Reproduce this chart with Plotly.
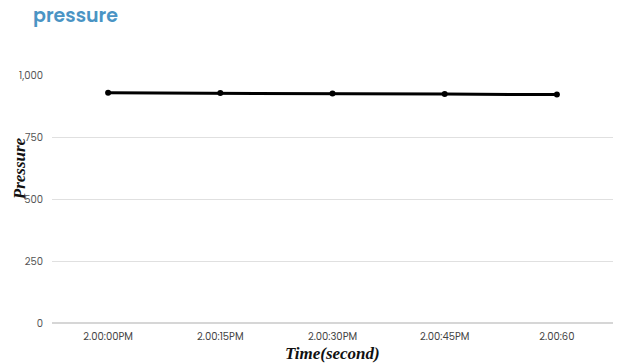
import plotly.graph_objects as go

# Pressure readings sampled every 15 seconds
times = ["2.00:00PM", "2.00:15PM", "2.00:30PM", "2.00:45PM", "2.00:60"]
pressure = [928, 927, 925, 923, 921]
y_ticks = [0, 250, 500, 750, 1000]
y_tick_labels = ["0", "250", "500", "750", "1,000"]

fig = go.Figure()
fig.add_trace(go.Scatter(
    x=times, y=pressure, mode="lines+markers",
    line=dict(color="#000000", width=3),
    marker=dict(color="#000000", size=6),
    hoverinfo="x+y",
))

fig.update_layout(
    width=623, height=364,
    margin=dict(l=52, r=10, t=75, b=41),
    paper_bgcolor="white", plot_bgcolor="white",
    showlegend=False,
    font=dict(family="Poppins, Inter, 'Open Sans', sans-serif", color="#555555", size=10),
    title=dict(
        text="pressure", x=33 / 623, xref="container", xanchor="left",
        y=0.975, yref="container", yanchor="top",
        font=dict(family="Poppins, Inter, 'Open Sans', sans-serif", size=19, color="#4a94c4", weight=600),
    ),
    xaxis=dict(
        type="category", range=[-0.5, len(times) - 0.5],
        showgrid=False, zeroline=False, showline=False,
        ticks="", ticklabelstandoff=6, tickfont=dict(size=10, color="#444444"),
    ),
    yaxis=dict(
        range=[0, 1000], tickvals=y_ticks, ticktext=y_tick_labels,
        showgrid=True, gridcolor="#e0e0e0", gridwidth=1,
        zeroline=True, zerolinecolor="#d6d6d6", zerolinewidth=2,
        ticks="", ticklabelstandoff=8, tickfont=dict(size=10, color="#555555"),
        showline=False,
    ),
    annotations=[
        dict(text="<b><i>Time(second)</i></b>", xref="paper", yref="paper",
             x=0.5, y=0, yshift=-30, xanchor="center", yanchor="middle",
             showarrow=False,
             font=dict(family="Liberation Serif, Times New Roman, serif", size=17, color="#111111")),
        dict(text="<b><i>Pressure</i></b>", xref="paper", yref="paper",
             x=0, xshift=-33, y=0.62, xanchor="center", yanchor="middle",
             textangle=-90, showarrow=False,
             font=dict(family="Liberation Serif, Times New Roman, serif", size=17, color="#111111")),
    ],
)

fig.write_html("out.html")
